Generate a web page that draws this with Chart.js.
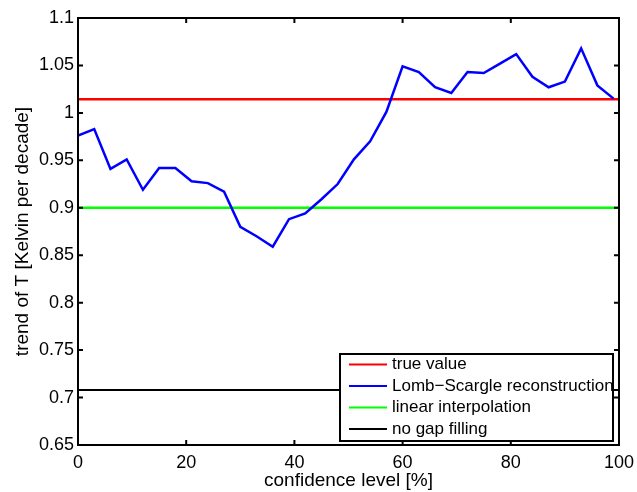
<!DOCTYPE html>
<html>
<head>
<meta charset="utf-8">
<script src="https://cdn.jsdelivr.net/npm/chart.js@4.4.1/dist/chart.umd.min.js"></script>
<style>
  html, body { margin: 0; padding: 0; background: #fff; }
  #wrap { width: 637px; height: 492px; }
</style>
</head>
<body>
<div id="wrap"><canvas id="c" width="637" height="492"></canvas></div>
<script>
"use strict";
// confidence level [%] (x) and Lomb-Scargle trend (y)
const confLevels = [0,3,6,9,12,15,18,21,24,27,30,33,36,39,42,45,48,51,54,57,60,63,66,69,72,75,78,81,84,87,90,93,96,99];
const lombScargle = [0.976,0.983,0.941,0.951,0.919,0.942,0.942,0.928,0.926,0.917,0.880,0.870,0.859,0.888,0.894,0.909,0.925,0.951,0.970,1.001,1.049,1.043,1.027,1.021,1.043,1.042,1.052,1.062,1.038,1.027,1.033,1.068,1.029,1.015];
// constant lines
const lineRange = [0, 100];
const trueValue = 1.0145;
const linearInterp = 0.9;
const noGapFilling = 0.708;
// ticks
const xTicks = [0, 20, 40, 60, 80, 100];
const yTicks = [0.65, 0.7, 0.75, 0.8, 0.85, 0.9, 0.95, 1, 1.05, 1.1];
const labels = ["true value", "Lomb\u2212Scargle reconstruction", "linear interpolation", "no gap filling"];
const colors = ["#ff0000", "#0000ff", "#00ff00", "#000000"];

const FONT = "'Liberation Sans', Arial, sans-serif";

function flat(v){
    return lineRange.map(x => ({x: x, y: v}));
}

// frame with inward ticks, like matlab
const framePlugin = {
    id: "frame",
    afterDatasetsDraw(chart){
        const ctx = chart.ctx;
        const ca = chart.chartArea;
        const xs = chart.scales.x, ys = chart.scales.y;
        ctx.save();
        ctx.strokeStyle = "#000";
        ctx.lineWidth = 2;
        ctx.strokeRect(ca.left, ca.top, ca.right - ca.left, ca.bottom - ca.top);
        ctx.beginPath();
        const len = 5;
        for (const t of xTicks) {
            let px = xs.getPixelForValue(t);
            ctx.moveTo(px, ca.bottom); ctx.lineTo(px, ca.bottom - len);
            ctx.moveTo(px, ca.top); ctx.lineTo(px, ca.top + len);
        }
        for (const t of yTicks) {
            let py = ys.getPixelForValue(t);
            ctx.moveTo(ca.left, py); ctx.lineTo(ca.left + len, py);
            ctx.moveTo(ca.right, py); ctx.lineTo(ca.right - len, py);
        }
        ctx.stroke();
        ctx.restore();
    },
    afterDraw(chart){
        // legend box inside lower right
        const ctx = chart.ctx;
        const ca = chart.chartArea;
        const w = 273, h = 87;
        const right = ca.right - 6, bottom = ca.bottom - 4;
        const left = right - w, top = bottom - h;
        ctx.save();
        ctx.fillStyle = "#fff";
        ctx.fillRect(left, top, w, h);
        ctx.beginPath();
        ctx.rect(left, top, w, h);
        ctx.clip();
        ctx.font = "17px " + FONT;
        ctx.textBaseline = "middle";
        ctx.textAlign = "left";
        chart.data.datasets.forEach(function(ds, i){
            let yy = top + 10.5 + i * 21.5;
            ctx.strokeStyle = ds.borderColor;
            ctx.lineWidth = 2;
            ctx.beginPath();
            ctx.moveTo(left + 9, yy);
            ctx.lineTo(left + 47, yy);
            ctx.stroke();
            ctx.fillStyle = "#000";
            ctx.fillText(ds.label, left + 52, yy);
        });
        ctx.restore();
        ctx.save();
        ctx.strokeStyle = "#000";
        ctx.lineWidth = 2;
        ctx.strokeRect(left, top, w, h);
        ctx.restore();
    }
};

let chart = new Chart(document.getElementById("c"), {
    type: "line",
    data: {
        datasets: [
            {label: labels[0], data: flat(trueValue), borderColor: colors[0], borderWidth: 2.5, order: 2},
            {label: labels[1], data: confLevels.map((x, i) => ({x: x, y: lombScargle[i]})), borderColor: colors[1], borderWidth: 2.5, order: 1},
            {label: labels[2], data: flat(linearInterp), borderColor: colors[2], borderWidth: 2.5, order: 3},
            {label: labels[3], data: flat(noGapFilling), borderColor: colors[3], borderWidth: 2, order: 4}
        ]
    },
    options: {
        responsive: false,
        animation: false,
        events: [],
        layout: {padding: {top: 18, right: 18, left: 0, bottom: 0}},
        elements: {point: {radius: 0}, line: {tension: 0, fill: false, borderCapStyle: "butt"}},
        plugins: {legend: {display: false}, tooltip: {enabled: false}},
        scales: {
            x: {
                type: "linear", min: 0, max: 100,
                grid: {display: false, drawTicks: false},
                border: {display: false},
                afterBuildTicks: s => { s.ticks = xTicks.map(v => ({value: v})); },
                afterFit: s => { s.height = 47; s.paddingLeft = 0; s.paddingRight = 0; },
                ticks: {color: "#000", padding: 7, maxRotation: 0, font: {family: FONT, size: 18}},
                title: {display: true, text: "confidence level [%]", color: "#000", padding: {top: 0, bottom: 0}, font: {family: FONT, size: 19}}
            },
            y: {
                type: "linear", min: 0.65, max: 1.1,
                grid: {display: false, drawTicks: false},
                border: {display: false},
                afterBuildTicks: s => { s.ticks = yTicks.map(v => ({value: v})); },
                afterFit: s => { s.width = 78; s.paddingTop = 0; s.paddingBottom = 0; },
                ticks: {color: "#000", padding: 4, font: {family: FONT, size: 18},
                    callback: v => String(parseFloat(Number(v).toFixed(2)))},
                title: {display: true, text: "trend of T [Kelvin per decade]", color: "#000", padding: {top: 11, bottom: 0}, font: {family: FONT, size: 19}}
            }
        }
    },
    plugins: [framePlugin]
});
</script>
</body>
</html>
